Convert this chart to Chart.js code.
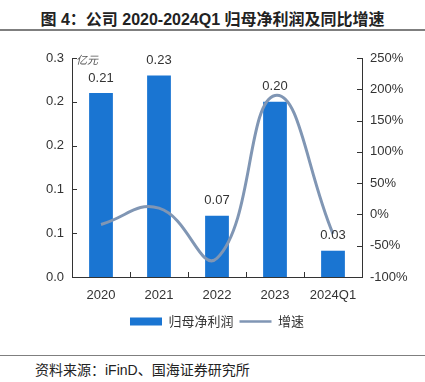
<!DOCTYPE html>
<html><head><meta charset="utf-8">
<script src="https://cdn.jsdelivr.net/npm/chart.js@4/dist/chart.umd.min.js"></script>
<style>
html,body{margin:0;padding:0;background:#fff;}
#wrap{position:relative;width:425px;height:382px;overflow:hidden;font-family:"Liberation Sans","Noto Sans CJK SC",sans-serif;}
#title{position:absolute;left:0;top:6px;width:425px;text-align:center;font-weight:bold;font-size:16px;color:#222;font-family:"Liberation Sans","Noto Sans CJK SC",sans-serif;}
#hr1{position:absolute;left:0;top:29px;width:425px;height:2px;background:#7f7f7f;}
#hr2{position:absolute;left:0;top:355px;width:425px;height:1px;background:#7f7f7f;}
#src{position:absolute;left:35px;top:359px;font-size:14px;color:#222;font-family:"Liberation Sans","Noto Sans CJK SC",sans-serif;}
#cv{position:absolute;left:0;top:35px;}
</style></head>
<body><div id="wrap">
<div id="title">图 4：公司 2020-2024Q1 归母净利润及同比增速</div>
<div id="hr1"></div>
<canvas id="cv" width="425" height="305"></canvas>
<div id="hr2"></div>
<div id="src">资料来源：iFinD、国海证券研究所</div>
</div>
<script>
const categories = ['2020','2021','2022','2023','2024Q1'];
const profit = [0.21, 0.23, 0.07, 0.20, 0.03];
const growth = [-16, 10, -70, 190, -31];
const leftTickLabels = ['0.0','0.1','0.1','0.2','0.2','0.3'];
const seriesNames = ['归母净利润','增速'];
const unitLabel = '亿元';

const BAR = '#1a75d2';
const LINE = '#8096b4';
const TXT = '#333333';

const decor = {
  id:'decor',
  afterDraw(chart){
    const ctx = chart.ctx, ca = chart.chartArea;
    const x = chart.scales.x, y = chart.scales.y, y1 = chart.scales.y1;
    ctx.save();
    ctx.strokeStyle = '#333'; ctx.lineWidth = 1;
    ctx.beginPath();
    y.ticks.forEach((t,i)=>{const p=Math.round(y.getPixelForTick(i))+0.5; ctx.moveTo(ca.left,p); ctx.lineTo(ca.left+5,p);});
    y1.ticks.forEach((t,i)=>{const p=Math.round(y1.getPixelForTick(i))+0.5; ctx.moveTo(ca.right,p); ctx.lineTo(ca.right-5,p);});
    for(let i=1;i<categories.length;i++){
      const p=Math.round((x.getPixelForTick(i-1)+x.getPixelForTick(i))/2)+0.5;
      ctx.moveTo(p,ca.bottom); ctx.lineTo(p,ca.bottom-5);
    }
    ctx.stroke();
    const meta = chart.getDatasetMeta(1);
    ctx.fillStyle = TXT; ctx.font = '13px "Liberation Sans"';
    ctx.textAlign='center'; ctx.textBaseline='middle';
    meta.data.forEach((el,i)=>{ ctx.fillText(profit[i].toFixed(2), el.x, el.y-15); });
    ctx.font = 'italic 11px "Noto Sans CJK SC"'; ctx.fillStyle='#555';
    ctx.textAlign='left';
    ctx.fillText(unitLabel, ca.left+4, ca.top+2);
    ctx.restore();
  }
};

new Chart(document.getElementById('cv'), {
  data:{
    labels: categories,
    datasets:[
      {type:'line', label:seriesNames[1], data:growth, yAxisID:'y1', borderColor:LINE, borderWidth:3, pointRadius:0, tension:0.45, fill:false, order:0},
      {type:'bar', label:seriesNames[0], data:profit, yAxisID:'y', backgroundColor:BAR, borderWidth:0, barPercentage:0.41, categoryPercentage:1, order:1}
    ]
  },
  options:{
    responsive:false, animation:false, devicePixelRatio:1,
    layout:{padding:{top:23,left:0,right:0,bottom:2}},
    plugins:{
      tooltip:{enabled:false},
      legend:{
        position:'bottom', fullSize:false,
        labels:{
          usePointStyle:true, pointStyleWidth:32, boxHeight:8, padding:6,
          color:TXT, font:{family:'"Noto Sans CJK SC"', size:13},
          generateLabels(chart){
            return [
              {text:seriesNames[0], fillStyle:BAR, strokeStyle:BAR, lineWidth:0, pointStyle:'rect', datasetIndex:1, fontColor:TXT},
              {text:seriesNames[1], fillStyle:LINE, strokeStyle:LINE, lineWidth:2.5, pointStyle:'line', datasetIndex:0, fontColor:TXT}
            ];
          }
        }
      }
    },
    scales:{
      x:{
        grid:{display:false, drawTicks:false},
        border:{display:true, color:'#333', width:1},
        ticks:{color:TXT, font:{family:'"Liberation Sans"', size:13}, padding:11, maxRotation:0},
        afterFit(s){ s.height = 32; }
      },
      y:{
        position:'left', min:0, max:0.25,
        grid:{display:false, drawTicks:false},
        border:{display:true, color:'#333', width:1},
        ticks:{stepSize:0.05, color:TXT, font:{family:'"Liberation Sans"', size:13}, padding:8,
          callback:(v,i)=>leftTickLabels[i]},
        afterFit(s){ s.width = 72; }
      },
      y1:{
        position:'right', min:-100, max:250,
        grid:{display:false, drawTicks:false},
        border:{display:true, color:'#333', width:1},
        ticks:{stepSize:50, color:TXT, font:{family:'"Liberation Sans"', size:13}, padding:8,
          callback:(v)=>v+'%'},
        afterFit(s){ s.width = 63; }
      }
    }
  },
  plugins:[decor]
});
</script>
</body></html>
